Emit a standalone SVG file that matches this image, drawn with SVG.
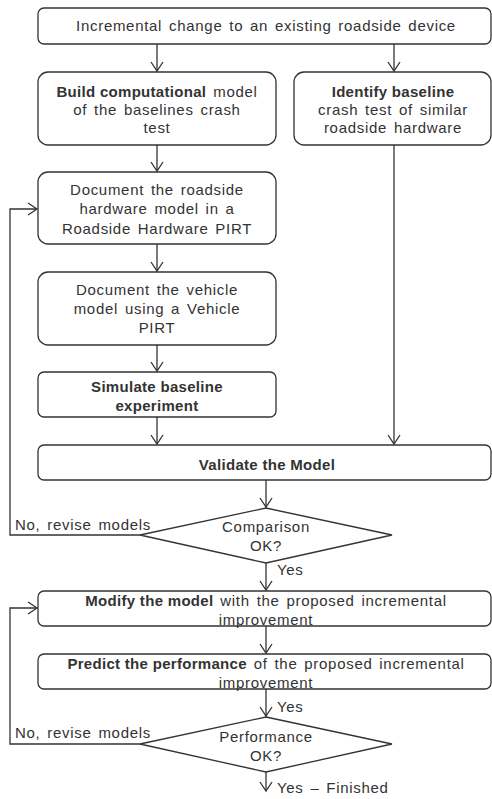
<svg xmlns="http://www.w3.org/2000/svg" width="492" height="799" viewBox="0 0 492 799">
<defs>
<marker id="ah" markerWidth="12" markerHeight="14" refX="10" refY="7" orient="auto" markerUnits="userSpaceOnUse" viewBox="0 0 12 14">
<path d="M1,1 L10,7 L1,13" fill="none" stroke="#333" stroke-width="1.3"/>
</marker>
</defs>
<style>
.box{fill:#fff;stroke:#333;stroke-width:1.3}
.t{font-family:"Liberation Sans",Arial,sans-serif;font-size:15px;fill:#333;text-anchor:middle;letter-spacing:0.7px;word-spacing:2px}
.b{font-weight:bold;letter-spacing:0.3px;word-spacing:0}
.l{text-anchor:start}
.c{fill:none;stroke:#333;stroke-width:1.3}
</style>
<rect width="492" height="799" fill="#fff"/>
<g id="connectors">
<path class="c" d="M157,44 V71" marker-end="url(#ah)"/>
<path class="c" d="M394,44 V71" marker-end="url(#ah)"/>
<path class="c" d="M157,145 V171" marker-end="url(#ah)"/>
<path class="c" d="M157,244 V271" marker-end="url(#ah)"/>
<path class="c" d="M157,345 V371" marker-end="url(#ah)"/>
<path class="c" d="M157,417 V444" marker-end="url(#ah)"/>
<path class="c" d="M394,145 V444" marker-end="url(#ah)"/>
<path class="c" d="M266,480 V507" marker-end="url(#ah)"/>
<path class="c" d="M140,535 H10 V209 H37" marker-end="url(#ah)"/>
<path class="c" d="M266,563 V590" marker-end="url(#ah)"/>
<path class="c" d="M266,626 V653" marker-end="url(#ah)"/>
<path class="c" d="M266,689 V716" marker-end="url(#ah)"/>
<path class="c" d="M140,744 H10 V608 H37" marker-end="url(#ah)"/>
<path class="c" d="M266,772 V791" marker-end="url(#ah)"/>
</g>
<g id="n-start">
<rect class="box" x="38" y="8" width="453" height="36" rx="6"/>
<text class="t" x="266" y="31">Incremental change to an existing roadside device</text>
</g>
<g id="n-build">
<rect class="box" x="38" y="72" width="238" height="73" rx="10"/>
<text class="t" x="157" y="97"><tspan class="b">Build computational</tspan> model</text>
<text class="t" x="157" y="115">of the baselines crash</text>
<text class="t" x="157" y="133">test</text>
</g>
<g id="n-identify">
<rect class="box" x="294" y="72" width="197" height="73" rx="10"/>
<text class="t b" x="393" y="97">Identify baseline</text>
<text class="t" x="393" y="115">crash test of similar</text>
<text class="t" x="393" y="133">roadside hardware</text>
</g>
<g id="n-doc-hw">
<rect class="box" x="38" y="172" width="238" height="72" rx="10"/>
<text class="t" x="157" y="195">Document the roadside</text>
<text class="t" x="157" y="214">hardware model in a</text>
<text class="t" x="157" y="234">Roadside Hardware PIRT</text>
</g>
<g id="n-doc-veh">
<rect class="box" x="38" y="272" width="238" height="73" rx="10"/>
<text class="t" x="157" y="295">Document the vehicle</text>
<text class="t" x="157" y="314">model using a Vehicle</text>
<text class="t" x="157" y="333">PIRT</text>
</g>
<g id="n-simulate">
<rect class="box" x="38" y="372" width="238" height="45" rx="6"/>
<text class="t b" x="157" y="392">Simulate baseline</text>
<text class="t b" x="157" y="411">experiment</text>
</g>
<g id="n-validate">
<rect class="box" x="38" y="445" width="453" height="35" rx="6"/>
<text class="t b" x="267" y="470">Validate the Model</text>
</g>
<g id="n-comparison">
<polygon class="box" points="266,508 392,535 266,563 140,535"/>
<text class="t" x="266" y="532">Comparison</text>
<text class="t" x="266" y="551">OK?</text>
</g>
<text class="t l" x="15" y="530">No, revise models</text>
<text class="t l" x="277" y="575">Yes</text>
<g id="n-modify">
<rect class="box" x="38" y="591" width="453" height="35" rx="6"/>
<text class="t" x="266" y="606"><tspan class="b">Modify the model</tspan> with the proposed incremental</text>
<text class="t" x="266" y="625">improvement</text>
</g>
<g id="n-predict">
<rect class="box" x="38" y="654" width="453" height="35" rx="6"/>
<text class="t" x="266" y="669"><tspan class="b">Predict the performance</tspan> of the proposed incremental</text>
<text class="t" x="266" y="688">improvement</text>
</g>
<text class="t l" x="277" y="712">Yes</text>
<g id="n-performance">
<polygon class="box" points="266,717 392,744 266,772 140,744"/>
<text class="t" x="266" y="742">Performance</text>
<text class="t" x="266" y="761">OK?</text>
</g>
<text class="t l" x="15" y="738">No, revise models</text>
<text class="t l" x="277" y="793">Yes – Finished</text>
</svg>
